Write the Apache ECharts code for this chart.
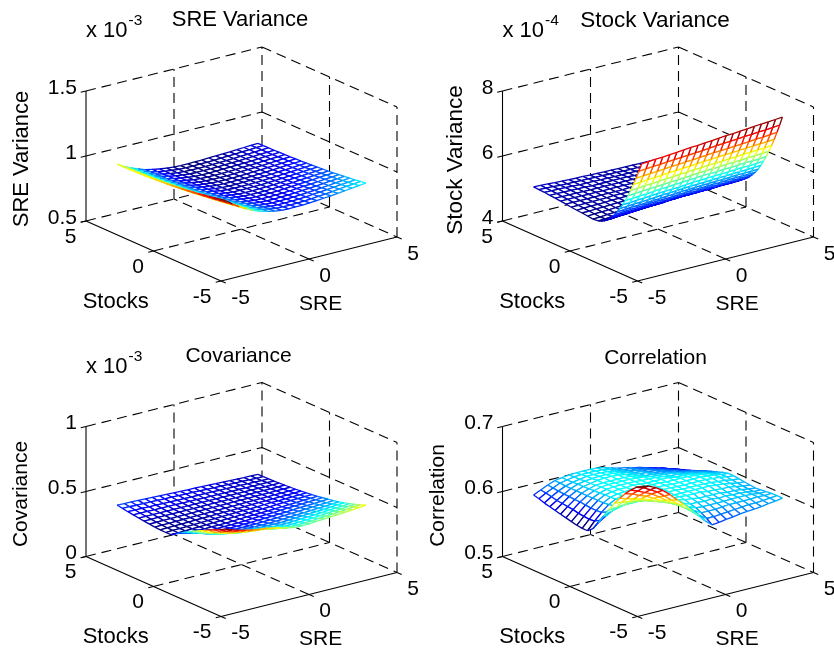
<!DOCTYPE html>
<html><head><meta charset="utf-8">
<style>html,body{margin:0;padding:0;background:#fff}#c{width:834px;height:651px}</style>
<script src="https://cdn.jsdelivr.net/npm/echarts@6/dist/echarts.min.js"></script>
</head><body><div id="c"></div>
<script>
const sreGrid=[-4,-3.6,-3.2,-2.8,-2.4,-2,-1.6,-1.2,-0.8,-0.4,0,0.4,0.8,1.2,1.6,2,2.4,2.8,3.2,3.6,4];
const stocksGrid=[-4,-3.6,-3.2,-2.8,-2.4,-2,-1.6,-1.2,-0.8,-0.4,0,0.4,0.8,1.2,1.6,2,2.4,2.8,3.2,3.6,4];
const stocksGridFine=[-4,-3.8,-3.6,-3.4,-3.2,-3,-2.8,-2.6,-2.4,-2.2,-2,-1.8,-1.6,-1.4,-1.2,-1,-0.8,-0.4,0,0.4,0.8,1.2,1.6,2,2.4,2.8,3.2,3.6,4];
const sreTicks=[-5,0,5];
const stocksTicks=[5,0,-5];
// rows follow the stocks grid, columns follow sreGrid; values in 1e-6
const sreVarianceZ=[
[1040,1000,965,935,910,890,875,863,855,853,854,855,858,862,867,872,878,884,890,896,903],
[1031,992,958,929,905,885,871,859,852,850,850,851,854,858,863,867,873,879,885,890,897],
[1023,985,952,923,900,881,867,856,848,846,847,848,851,854,859,863,869,874,880,885,891],
[1015,978,945,918,895,877,863,852,845,843,844,845,847,851,855,859,864,869,875,880,885],
[1008,971,940,913,890,873,860,849,842,840,841,842,844,848,852,855,860,865,870,875,880],
[1000,965,934,908,886,869,856,846,840,838,838,839,841,844,848,852,856,861,866,870,875],
[994,959,929,903,882,866,853,844,837,835,836,837,839,842,845,849,853,857,862,866,871],
[988,954,924,899,878,862,850,841,835,833,833,834,836,839,842,845,850,854,858,862,866],
[982,949,920,895,875,859,847,839,833,831,831,832,834,836,839,843,847,851,855,859,863],
[977,944,916,892,872,856,845,836,830,829,829,830,831,834,837,840,844,848,852,855,859],
[972,940,912,888,869,854,843,834,829,827,827,828,830,832,835,838,841,845,849,852,856],
[968,936,909,885,866,852,841,833,827,825,825,826,828,830,833,835,839,842,846,850,853],
[964,933,906,883,864,850,839,831,826,824,824,825,826,828,831,833,837,840,844,847,850],
[961,930,903,880,862,848,837,830,824,822,822,823,825,827,829,832,835,838,842,845,848],
[958,927,901,879,860,846,836,828,823,821,821,822,823,826,828,830,833,837,840,843,846],
[955,925,899,877,858,845,835,827,822,820,820,821,822,824,827,829,832,835,838,841,844],
[954,923,898,875,857,844,834,827,821,819,819,820,822,824,826,828,831,834,837,840,843],
[952,922,896,874,856,843,833,826,821,819,819,820,821,823,825,827,830,833,836,839,841],
[951,921,896,874,856,842,832,825,820,818,818,819,820,822,824,826,829,832,836,839,841],
[950,920,895,873,855,842,832,825,820,818,818,819,820,822,824,826,829,832,835,838,840],
[949,919,894,872,854,841,831,824,819,817,817,818,819,821,823,825,828,831,834,837,839]];
const stockVarianceZ=[
[728,730,732,733,735,737,739,741,742,744,746,748,750,751,753,755,757,759,760,762,764],
[702,704,706,707,709,711,712,714,715,717,719,721,723,724,726,728,729,731,732,734,736],
[677,679,681,682,684,686,687,689,690,692,694,696,697,698,700,701,703,705,706,708,710],
[654,656,658,659,661,663,664,666,667,669,671,672,674,675,676,678,679,681,682,683,685],
[632,634,636,637,639,641,642,644,645,647,648,650,651,652,654,655,657,658,659,660,662],
[612,614,616,617,618,620,622,623,624,626,628,629,630,631,633,634,635,637,638,639,641],
[594,595,597,598,600,602,603,605,606,608,609,611,611,612,614,614,616,618,618,619,621],
[577,578,580,581,583,585,586,587,588,590,592,593,594,595,596,597,598,600,600,601,603],
[562,563,565,566,567,569,571,572,573,575,576,577,578,579,580,581,582,583,584,585,586],
[548,549,551,552,553,555,556,558,559,561,562,563,564,565,566,566,568,569,569,570,571],
[535,537,539,540,541,543,544,545,546,548,549,551,551,552,553,553,555,556,556,557,558],
[525,526,528,529,530,532,533,534,535,537,538,539,540,541,542,542,543,544,545,546,547],
[515,516,518,519,521,523,524,525,526,528,529,530,530,531,532,532,534,535,535,536,537],
[508,509,511,512,513,515,516,517,518,520,521,522,522,523,524,524,526,527,527,528,529],
[501,502,504,505,507,509,510,511,512,514,515,516,516,517,518,518,519,520,520,521,522],
[497,498,500,501,502,504,505,506,507,509,510,511,511,512,513,513,514,515,515,516,517],
[494,495,497,498,499,501,502,503,504,506,507,508,508,509,510,510,511,512,512,513,514],
[492,493,495,496,497,499,500,501,502,504,505,506,506,507,508,508,509,510,510,511,512],
[494,495,496,497,498,500,500,501,502,504,505,506,506,506,507,507,508,509,509,510,511],
[496,496,498,498,499,500,501,502,502,504,504,505,505,506,507,506,507,508,508,509,510],
[497,498,499,499,500,501,501,502,502,504,504,505,505,505,506,506,506,507,507,508,508],
[499,499,500,500,501,501,502,502,502,504,504,504,504,505,505,505,505,506,506,507,507],
[501,501,501,501,501,502,502,502,502,503,503,504,503,504,504,504,504,505,505,505,506],
[503,503,503,503,502,503,502,503,503,503,503,504,503,503,504,503,504,504,504,504,505],
[505,504,504,504,503,503,503,503,503,503,503,503,502,503,503,502,503,503,503,503,504],
[506,506,505,505,504,504,503,503,503,503,503,503,502,502,502,502,502,502,502,502,502],
[508,507,507,506,505,504,504,504,503,503,502,502,502,502,502,501,501,501,501,501,501],
[509,508,507,506,505,505,504,504,503,503,502,502,501,501,501,501,501,500,500,500,501],
[510,509,508,507,506,505,504,504,503,503,502,502,501,501,501,500,500,500,500,500,500]];
const covarianceZ=[
[592,572,556,543,532,524,518,505,492,480,470,470,472,475,479,483,487,491,495,500,506],
[570,544,527,513,503,494,491,480,470,462,455,455,458,460,465,468,472,476,480,485,490],
[549,520,500,488,476,471,466,460,452,447,441,442,445,448,451,455,459,463,466,471,475],
[528,498,477,464,454,449,446,441,437,432,430,431,434,437,440,443,447,450,454,457,462],
[507,476,455,443,435,430,427,425,422,421,419,420,424,426,430,432,436,439,442,447,450],
[487,455,436,424,417,414,411,410,409,408,409,411,413,416,419,422,425,429,431,435,438],
[465,437,420,409,403,401,399,398,399,400,401,403,406,409,412,414,418,421,424,426,430],
[442,418,404,395,390,390,389,390,391,392,394,396,399,402,404,408,411,413,416,419,422],
[418,400,391,385,382,381,382,383,385,386,389,391,394,396,399,402,404,407,410,413,415],
[392,383,377,375,374,375,376,378,380,382,384,386,389,391,393,395,398,400,403,406,408],
[366,366,367,369,370,372,374,376,378,380,382,384,386,388,390,392,394,396,398,400,402],
[363,365,366,368,370,372,373,375,377,378,380,382,383,385,387,389,390,392,394,395,397],
[365,366,368,369,370,372,373,374,376,377,378,380,381,383,384,385,387,388,389,391,392],
[368,369,370,371,372,373,374,375,376,377,378,379,380,381,382,383,384,385,386,387,388],
[372,373,373,374,375,375,376,377,377,378,379,379,380,380,381,382,382,383,384,384,385],
[377,377,378,378,378,378,379,379,379,379,380,380,380,380,380,381,381,381,381,382,382],
[382,382,382,382,381,381,381,381,381,381,381,380,380,380,380,380,380,380,379,379,379],
[388,387,387,386,386,385,385,384,384,383,382,382,381,381,380,380,379,379,378,378,377],
[394,393,392,391,390,389,388,387,386,385,385,384,383,382,381,380,379,378,377,376,375],
[401,400,398,397,396,394,393,392,390,389,388,386,385,383,382,381,379,378,377,375,374],
[408,406,405,403,401,399,398,396,394,392,390,389,387,385,383,382,380,378,376,375,373]];
// correlation values in 1e-3
const correlationZ=[
[684,682,677,670,661,650,640,629,618,607,598,599,601,602,604,605,606,607,609,610,612],
[679,676,670,664,655,646,637,628,620,611,604,604,605,606,607,608,609,609,610,611,612],
[671,667,662,657,650,642,635,628,621,615,609,609,609,610,611,611,611,611,612,611,612],
[662,659,654,650,644,638,632,627,622,617,613,612,612,612,612,613,613,613,612,611,611],
[651,648,645,642,638,633,629,626,622,619,615,615,614,615,613,614,613,613,612,610,610],
[640,639,637,636,633,630,628,625,623,621,618,617,615,615,615,615,613,613,612,610,609],
[626,627,628,629,628,627,626,624,622,620,619,618,618,618,616,616,615,615,613,611,610],
[613,617,620,622,622,622,621,620,620,619,618,618,618,618,618,618,617,616,614,612,611],
[599,606,612,617,619,620,620,620,620,620,619,619,618,618,618,618,617,616,615,613,612],
[586,596,606,613,618,620,620,620,620,620,619,619,618,618,618,618,618,617,616,614,613],
[579,591,602,611,617,619,620,620,620,620,619,619,618,618,618,618,618,617,616,614,613],
[579,590,601,610,616,618,619,620,620,620,619,619,618,618,618,618,617,616,614,612,611],
[580,591,601,610,616,618,619,619,620,619,618,618,618,618,616,616,615,613,612,609,608],
[582,592,602,610,615,618,619,619,619,619,618,618,617,616,614,614,612,611,609,607,605],
[584,594,603,610,615,618,619,619,619,619,618,617,615,614,613,612,610,608,607,604,602],
[586,595,603,610,614,617,618,618,618,618,617,615,613,612,610,609,607,605,603,600,598],
[588,596,604,610,614,616,618,619,619,618,616,614,612,611,608,607,605,603,600,597,595],
[590,597,604,610,614,616,617,618,618,617,615,613,610,609,606,605,603,600,598,594,592],
[592,599,605,610,613,615,617,617,617,616,614,611,609,607,605,603,600,598,595,592,589],
[595,601,606,611,613,615,616,616,616,615,613,610,607,606,603,601,598,595,593,589,586],
[597,602,607,611,613,614,615,615,615,614,612,609,606,604,601,599,596,593,590,586,583]];

const FONT='"Liberation Sans",Arial,Helvetica,sans-serif';
const FS=21;
const panels=[
 {name:'SRE Variance',ox:0,oy:0,z:sreVarianceZ,rows:stocksGrid,zTicks:[500,1000,1500],zLabels:['0.5','1','1.5'],exp:'-3',tx:240,ty:9,lx:21.7,ly:159,fs:22},
 {name:'Stock Variance',ox:416.5,oy:0,z:stockVarianceZ,rows:stocksGridFine,zTicks:[400,600,800],zLabels:['4','6','8'],exp:'-4',tx:238.5,ty:9,lx:39.5,ly:160,fs:22.5},
 {name:'Covariance',ox:0,oy:335.5,z:covarianceZ,rows:stocksGrid,zTicks:[0,500,1000],zLabels:['0','0.5','1'],exp:'-3',tx:238.5,ty:10.5,lx:21.7,ly:158.5,fs:21},
 {name:'Correlation',ox:416.5,oy:335.5,z:correlationZ,rows:stocksGrid,zTicks:[500,600,700],zLabels:['0.5','0.6','0.7'],exp:null,tx:239,ty:12.5,lx:21.5,ly:160,fs:21}
];
function jet(v){
 const c=x=>Math.round(255*Math.max(0,Math.min(1,1.5-Math.abs(4*v-x))));
 return 'rgb('+c(3)+','+c(2)+','+c(1)+')';
}
function projector(p){
 const zMin=p.zTicks[0],zMax=p.zTicks[p.zTicks.length-1];
 return (s,t,z)=>[241.5+17.6*s-13.5*t, 229-4.4*s-6*t-130*(z-zMin)/(zMax-zMin)];
}
const grids=[],xAxes=[],yAxes=[],series=[],titles=[];
panels.forEach((p,k)=>{
 grids.push({left:p.ox,top:p.oy,width:417,height:315,containLabel:false});
 xAxes.push({type:'value',gridIndex:k,min:0,max:417,show:false});
 yAxes.push({type:'value',gridIndex:k,min:0,max:315,inverse:true,show:false});
 titles.push({text:p.name,left:p.ox+p.tx,top:p.oy+p.ty,textAlign:'center',padding:0,
   textStyle:{fontFamily:FONT,fontSize:p.fs,fontWeight:'normal',color:'#000'}});
 const proj=projector(p);
 const zMin=p.zTicks[0],zMax=p.zTicks[2];
 const seg=(a,b)=>[...a,...b];
 const dashed=[];
 p.zTicks.forEach(z=>{dashed.push(seg([-5,5,z],[5,5,z]));dashed.push(seg([5,5,z],[5,-5,z]));});
 sreTicks.filter(s=>s>-5).forEach(s=>dashed.push(seg([s,5,zMin],[s,5,zMax])));
 stocksTicks.filter(t=>t<5).forEach(t=>dashed.push(seg([5,t,zMin],[5,t,zMax])));
 sreTicks.filter(s=>Math.abs(s)<5).forEach(s=>dashed.push(seg([s,-5,zMin],[s,5,zMin])));
 stocksTicks.filter(t=>Math.abs(t)<5).forEach(t=>dashed.push(seg([-5,t,zMin],[5,t,zMin])));
 const solid=[seg([-5,5,zMin],[-5,-5,zMin]),seg([-5,-5,zMin],[5,-5,zMin]),seg([-5,5,zMin],[-5,5,zMax])];
 sreTicks.forEach(s=>solid.push(seg([s,-5,zMin],[s,-5.35,zMin])));
 stocksTicks.forEach(t=>solid.push(seg([-5,t,zMin],[-5.3,t,zMin])));
 p.zTicks.forEach(z=>solid.push(seg([-5,5,z],[-5.3,5,z])));
 const lineSeries=(name,data,dash)=>({type:'custom',name,xAxisIndex:k,yAxisIndex:k,silent:true,animation:false,
   clip:false,data,encode:{x:0,y:1},
   renderItem:(params,api)=>{
    const d=data[params.dataIndex];
    const a=api.coord(proj(d[0],d[1],d[2])),b=api.coord(proj(d[3],d[4],d[5]));
    return {type:'line',shape:{x1:a[0],y1:a[1],x2:b[0],y2:b[1]},
      style:{stroke:'#000',lineWidth:1.1,lineDash:dash||null,fill:null}};
   }});
 series.push(lineSeries(p.name+' grid',dashed,[10,6]));
 // mesh cells, back to front
 const cells=[];
 for(let j=p.rows.length-2;j>=0;j--)for(let i=sreGrid.length-2;i>=0;i--)cells.push([i,j]);
 let lo=Infinity,hi=-Infinity;
 p.z.forEach(r=>r.forEach(v=>{lo=Math.min(lo,v);hi=Math.max(hi,v);}));
 const col=v=>jet((v-lo)/(hi-lo));
 series.push({type:'custom',name:p.name,xAxisIndex:k,yAxisIndex:k,silent:true,animation:false,clip:false,
   progressive:0,data:cells,encode:{x:0,y:1},
   renderItem:(params,api)=>{
    const c=cells[params.dataIndex],i=c[0],j=c[1];
    const pt=(a,b)=>api.coord(proj(sreGrid[a],p.rows[b],p.z[b][a]));
    const A=pt(i,j),B=pt(i+1,j),C=pt(i+1,j+1),D=pt(i,j+1);
    const edge=(P,Q,v)=>({type:'line',shape:{x1:P[0],y1:P[1],x2:Q[0],y2:Q[1]},
       style:{stroke:col(v),lineWidth:1.3,fill:null}});
    return {type:'group',children:[
     {type:'polygon',shape:{points:[A,B,C,D]},style:{fill:'#fff',stroke:null}},
     edge(D,C,p.z[j+1][i]),edge(B,C,p.z[j][i+1]),edge(A,D,p.z[j][i]),edge(A,B,p.z[j][i])
    ]};
   }});
 series.push(lineSeries(p.name+' axes',solid,null));
 // labels
 const labels=[];
 sreTicks.forEach(s=>{const q=proj(s,-5,zMin);labels.push({text:String(s),x:q[0]+10.3,y:q[1]+17,align:'left'});});
 stocksTicks.forEach(t=>{const q=proj(-5,t,zMin);labels.push({text:String(t),x:q[0]-9.5,y:q[1]+16,align:'right'});});
 p.zTicks.forEach((z,n)=>{const q=proj(-5,5,z);labels.push({text:p.zLabels[n],x:77,y:q[1]-3,align:'right'});});
 labels.push({text:'Stocks',x:115.7,y:301.7,align:'center',size:22});
 labels.push({text:'SRE',x:320.7,y:304,align:'center'});
 labels.push({text:p.name,x:p.lx,y:p.ly,align:'center',rot:Math.PI/2,size:p.fs});
 if(p.exp){
  labels.push({text:'x 10',x:86,y:31,align:'left',size:22});
  labels.push({text:p.exp,x:128.5,y:21,align:'left',size:15.5});
 }
 series.push({type:'custom',name:p.name+' labels',xAxisIndex:k,yAxisIndex:k,silent:true,animation:false,clip:false,
   data:labels.map((l,i)=>[i,i]),encode:{x:0,y:1},
   renderItem:(params,api)=>{
    const l=labels[params.dataIndex],q=api.coord([l.x,l.y]);
    return {type:'text',x:q[0],y:q[1],rotation:l.rot||0,
      style:{text:l.text,fontFamily:FONT,fontSize:l.size||FS,fill:'#000',align:l.align,verticalAlign:'middle'}};
   }});
});
const chart=echarts.init(document.getElementById('c'),null,{renderer:'canvas'});
chart.setOption({animation:false,backgroundColor:'#fff',title:titles,grid:grids,xAxis:xAxes,yAxis:yAxes,series});
</script></body></html>
